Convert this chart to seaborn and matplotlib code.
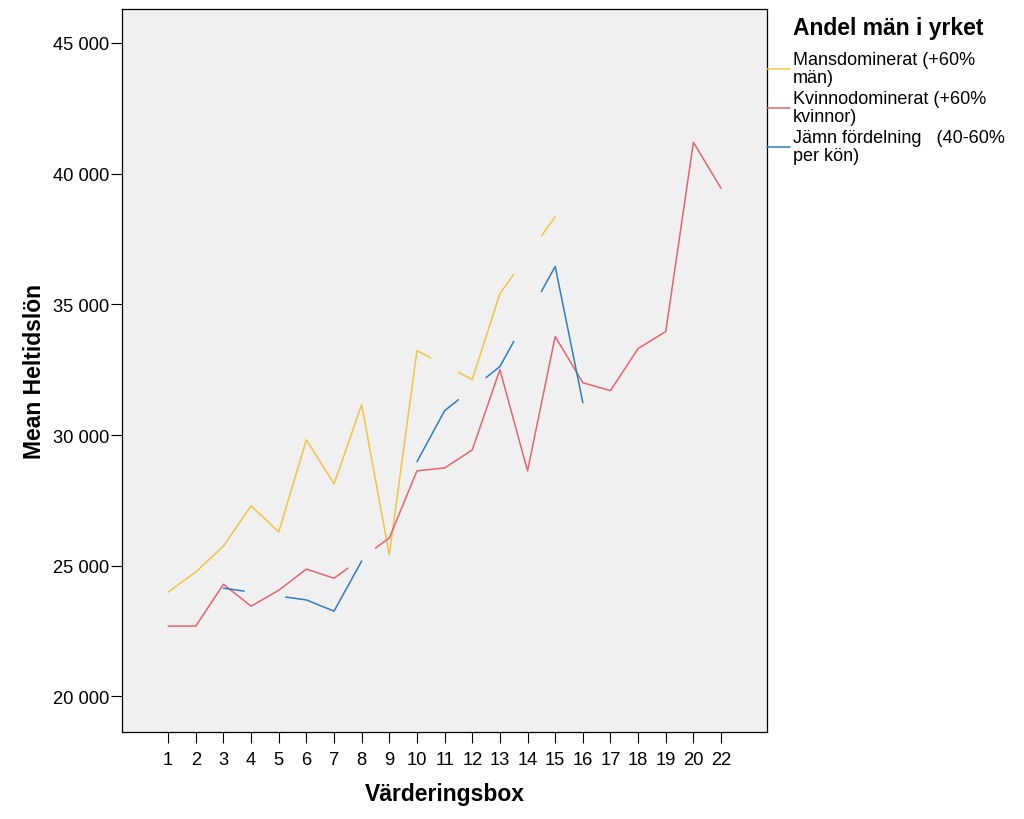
import matplotlib
matplotlib.use("Agg")
import matplotlib.pyplot as plt
import numpy as np
import pandas as pd
import seaborn as sns
from matplotlib.lines import Line2D
from matplotlib.ticker import FuncFormatter

# Värderingsbox categories (21 is absent from the data)
boxes = [str(i) for i in range(1, 21)] + ["22"]

nan = np.nan
mansdominerat = [23990, 24760, 25750, 27290, 26290, 29820, 28130, 31160, 25410, 33230,
                 nan, 32120, 35410, nan, 38350, nan, nan, nan, nan, nan, nan]
kvinnodominerat = [22690, 22690, 24290, 23450, 24060, 24870, 24520, nan, 26060, 28630,
                   28740, 29430, 32500, 28630, 33770, 32000, 31700, 33310, 33960, 41200, 39440]
jamn = [nan, nan, 24140, nan, nan, 23690, 23260, 25180, nan, 28980,
        30930, nan, 32620, nan, 36450, 31240, nan, nan, nan, nan, nan]
# boxes where a series has no stub-interpolation across the gap
jamn_breaks = ["9"]

legend_title = "Andel män i yrket"
series_names = [
    "Mansdominerat (+60%\nmän)",
    "Kvinnodominerat (+60%\nkvinnor)",
    "Jämn fördelning   (40-60%\nper kön)",
]
series_values = [mansdominerat, kvinnodominerat, jamn]
series_breaks = [[], [], jamn_breaks]
colors = ["#F2C445", "#E2646F", "#2F7DBD"]


def split_segments(values, breaks):
    """SPSS-style gaps: missing boxes keep a quarter-length stub at each side."""
    vals = np.asarray(values, dtype=float)
    idx = [i for i, v in enumerate(vals) if not np.isnan(v)]
    segs = []
    cur = [(idx[0], vals[idx[0]])]
    for a, b in zip(idx, idx[1:]):
        if b == a + 1:
            cur.append((b, vals[b]))
            continue
        hard = any(boxes[k] in breaks for k in range(a + 1, b))
        step = (vals[b] - vals[a]) / 4
        q = (b - a) / 4
        if not hard:
            cur.append((a + q, vals[a] + step))
        segs.append(cur)
        cur = [] if hard else [(b - q, vals[b] - step)]
        cur.append((b, vals[b]))
    segs.append(cur)
    return segs


rows = []
for name, values, brk in zip(series_names, series_values, series_breaks):
    for s, seg in enumerate(split_segments(values, brk)):
        for x, y in seg:
            rows.append({"serie": name, "seg": f"{name}-{s}", "x": x, "y": y})
df = pd.DataFrame(rows)

sns.set_style("white", {"text.color": "black", "axes.labelcolor": "black",
                        "xtick.color": "black", "ytick.color": "black",
                        "xtick.bottom": True, "ytick.left": True})
plt.rcParams["font.family"] = ["Liberation Sans", "DejaVu Sans"]

fig = plt.figure(figsize=(10.24, 8.2), dpi=100)
ax = fig.add_axes([0.1194, 0.1065, 0.6293, 0.8813])
ax.set_facecolor("#F0F0F0")

sns.lineplot(
    data=df, x="x", y="y", hue="serie", units="seg", estimator=None, sort=False,
    palette=dict(zip(series_names, colors)), hue_order=series_names,
    linewidth=1.1, legend=False, ax=ax,
)

ax.set_xlim(-1.66, 21.65)
ax.set_ylim(18650, 46300)
ax.set_xticks(range(len(boxes)), boxes)
ax.set_yticks([20000, 25000, 30000, 35000, 40000, 45000])
ax.yaxis.set_major_formatter(FuncFormatter(lambda v, _: f"{int(v):,}".replace(",", " ")))
ax.tick_params(axis="both", direction="out", length=8, width=0.8, color="black",
               labelsize=13.2, labelcolor="black", bottom=True, left=True)
ax.tick_params(axis="x", pad=6)
ax.tick_params(axis="y", pad=1.5)
for sp in ax.spines.values():
    sp.set_color("black")
    sp.set_linewidth(0.9)

ax.set_xlabel("Värderingsbox", fontsize=16.5, fontweight="bold", labelpad=10)
ax.set_ylabel("Mean Heltidslön", fontsize=16.5, fontweight="bold", labelpad=5)

fig.text(793 / 1024, 1 - 28 / 820, legend_title, fontsize=16.5, fontweight="bold",
         ha="left", va="center", color="black")
handles = [Line2D([], [], color=c, lw=1.1) for c in colors]
fig.legend(
    handles, series_names, loc="upper left", bbox_to_anchor=(0.749, 1 - 52 / 820),
    frameon=False, fontsize=13, labelcolor="black",
    handlelength=1.3, handletextpad=0.15, labelspacing=0.25, borderpad=0,
    borderaxespad=0,
)
for t in fig.legends[0].get_texts():
    t.set_linespacing(1.05)

fig.savefig("out.png", dpi=100)
